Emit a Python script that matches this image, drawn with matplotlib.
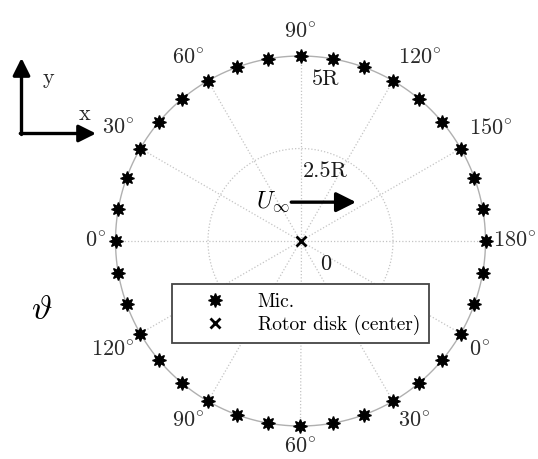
import matplotlib
matplotlib.use("Agg")
import matplotlib.pyplot as plt
import numpy as np

plt.rcParams['font.family'] = 'serif'
plt.rcParams['font.serif'] = ['cmr10', 'DejaVu Serif']
plt.rcParams['mathtext.fontset'] = 'cm'
plt.rcParams['axes.unicode_minus'] = False

# microphone array: 36 mics on a ring of radius 5R, every 10 degrees
mic_radius = 5.0
mic_angles = np.arange(0, 360, 10)

# spokes (standard angle, deg) and the labels printed at them
spoke_angles = [180, 150, 120, 90, 60, 30, 0, 330, 300, 270, 240, 210]
spoke_labels = ['0', '30', '60', '90', '120', '150', '180',
                '0', '30', '60', '90', '120']

# radial rings
ring_values = [0, 2.5, 5]
ring_labels = ['0', '2.5R', '5R']

# label offsets in pixels (dx, dy) from the mic on each spoke
spoke_label_offsets = [(-20, 0), (-22, 20), (-20, 23), (0, 24), (27, 23),
                       (30, 20), (29, 0), (19, -17), (21, -20), (0, -21),
                       (-20, -20), (-28, -17)]

W, H = 538, 459
cx, cy = 300.5, 241     # centre of the ring in pixels (from top)
ppr = 37.0              # pixels per R

fig = plt.figure(figsize=(W / 100, H / 100), dpi=100)
ax = fig.add_axes([0, 0, 1, 1])
ax.set_xlim(-cx / ppr, (W - cx) / ppr)
ax.set_ylim(-(H - cy) / ppr, cy / ppr)
ax.axis('off')

grid_kw = dict(color='#c4c4c4', lw=0.9, ls=(0, (1, 1.6)), zorder=1)

# spokes
for a in spoke_angles:
    t = np.deg2rad(a)
    ax.plot([0, mic_radius * np.cos(t)], [0, mic_radius * np.sin(t)], **grid_kw)

# inner ring (2.5R)
th = np.linspace(0, 2 * np.pi, 400)
ax.plot(2.5 * np.cos(th), 2.5 * np.sin(th), **grid_kw)
# outer ring
ax.plot(mic_radius * np.cos(th), mic_radius * np.sin(th), color='#b0b0b0', lw=1.0, zorder=2)

# mics
t = np.deg2rad(mic_angles)
ax.plot(mic_radius * np.cos(t), mic_radius * np.sin(t), ls='none',
        marker=(8, 1, 0), ms=10, color='k', zorder=3, label='Mic.')

# rotor centre
ax.plot([0], [0], ls='none', marker='x', ms=7, mew=2, color='k', zorder=4,
        label='Rotor disk (center)')

# angle labels
for a, lab, (dx, dy) in zip(spoke_angles, spoke_labels, spoke_label_offsets):
    tt = np.deg2rad(a)
    ax.annotate(r'$%s^{\circ}$' % lab,
                xy=(mic_radius * np.cos(tt), mic_radius * np.sin(tt)),
                xytext=(dx * 0.72, dy * 0.72), textcoords='offset points',
                ha='center', va='center', fontsize=16, color='#2a2a2a')

# radial labels
for r, lab in zip(ring_values, ring_labels):
    ax.annotate(lab, xy=(0, r), xytext=(25 * 0.72, -23 * 0.72),
                textcoords='offset points', ha='center', va='center',
                fontsize=16, color='#1a1a1a')

# free stream arrow
ax.annotate('', xy=(1.5, 1.05), xytext=(-0.25, 1.05),
            arrowprops=dict(arrowstyle='-|>', lw=2.4, color='k',
                            mutation_scale=30, shrinkA=0, shrinkB=0))
ax.text(-0.3, 1.05, r'$U_\infty$', ha='right', va='center', fontsize=17)

# coordinate system
fx = lambda px: px / W
fy = lambda py: 1 - py / H
arr = dict(arrowstyle='-|>', lw=2.4, color='k', mutation_scale=26, shrinkA=0, shrinkB=0)
ax.annotate('', xy=(fx(21.5), fy(58)), xytext=(fx(21.5), fy(134.5)),
            xycoords='figure fraction', textcoords='figure fraction', arrowprops=arr)
ax.annotate('', xy=(fx(96), fy(133.5)), xytext=(fx(20.3), fy(133.5)),
            xycoords='figure fraction', textcoords='figure fraction', arrowprops=arr)
fig.text(fx(48), fy(78), 'y', ha='center', va='center', fontsize=16, color='#2a2a2a')
fig.text(fx(85), fy(114), 'x', ha='center', va='center', fontsize=16, color='#2a2a2a')
fig.text(fx(42), fy(310), r'$\vartheta$', ha='center', va='center', fontsize=25)

leg = ax.legend(loc='upper left', bbox_to_anchor=(fx(172), fy(284)),
                bbox_transform=fig.transFigure, borderaxespad=0,
                fontsize=14, frameon=True, fancybox=False, handletextpad=0.45,
                borderpad=0.45, labelspacing=0.2, handlelength=3.5)
leg.get_frame().set_edgecolor('#444444')
leg.get_frame().set_linewidth(1.3)
leg.get_frame().set_alpha(1)

fig.savefig('out.png', dpi=100)
